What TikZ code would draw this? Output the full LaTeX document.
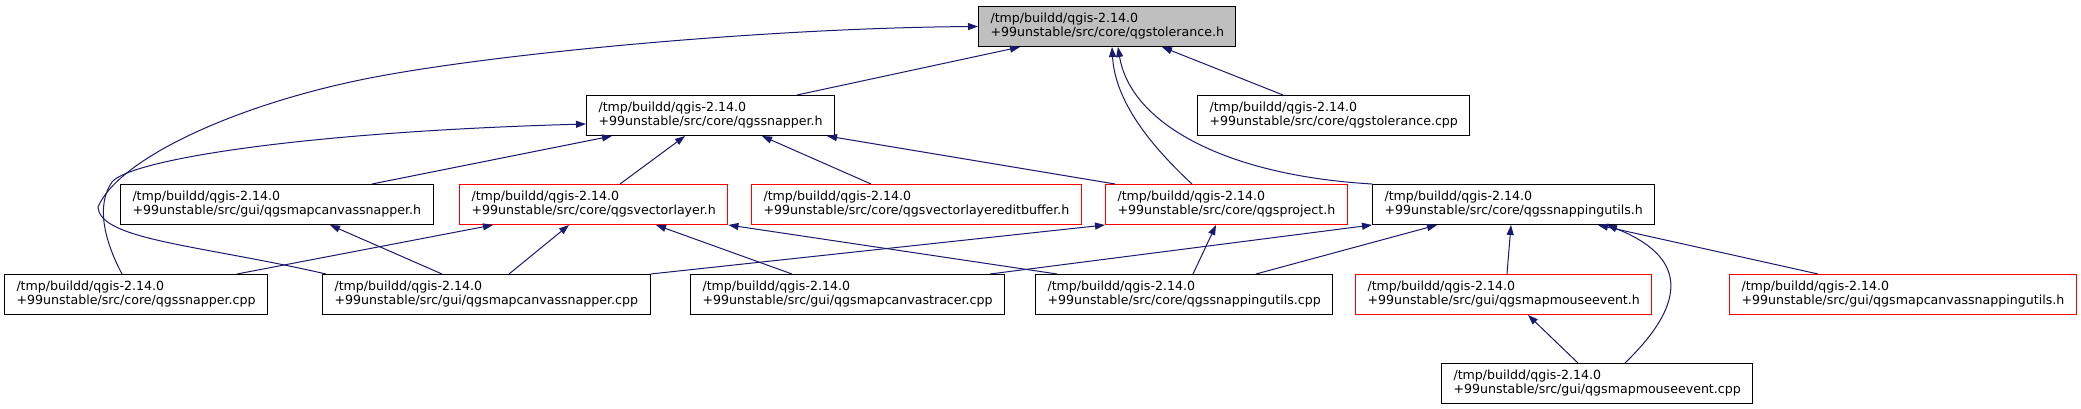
\documentclass[tikz,border=0pt]{standalone}
\usepackage{fontspec}
\setmainfont{DejaVu Sans}
\usepackage{tikz}
\usepackage{xcolor}
\usetikzlibrary{arrows.meta}
\definecolor{depblue}{RGB}{25,25,112}
\definecolor{curgray}{RGB}{191,191,191}
\tikzstyle{file}=[draw=black, line width=1pt, align=left, inner xsep=12pt, inner ysep=0pt, minimum height=40pt, anchor=north west, font=\fontsize{12.6}{14}\selectfont]
\tikzstyle{redfile}=[file, draw=red]
\tikzstyle{curfile}=[file, fill=curgray]
\tikzstyle{dep}=[draw=depblue, line width=1pt, -{Triangle[length=10pt, width=7pt]}]

\begin{document}
\begin{tikzpicture}[x=1pt, y=-1pt]
    \fill[white] (0,0) rectangle (2081,409);
    \useasboundingbox (0,0) rectangle (2081,409);

    \node[curfile] (tolerance)           at (978,6)    {/tmp/buildd/qgis-2.14.0\\+99unstable/src/core/qgstolerance.h};
    \node[file]    (snapper)             at (586,95)   {/tmp/buildd/qgis-2.14.0\\+99unstable/src/core/qgssnapper.h};
    \node[file]    (tolerancecpp)        at (1197,95)  {/tmp/buildd/qgis-2.14.0\\+99unstable/src/core/qgstolerance.cpp};
    \node[file]    (canvassnapper)       at (120,184)  {/tmp/buildd/qgis-2.14.0\\+99unstable/src/gui/qgsmapcanvassnapper.h};
    \node[redfile] (vectorlayer)         at (459,184)  {/tmp/buildd/qgis-2.14.0\\+99unstable/src/core/qgsvectorlayer.h};
    \node[redfile] (editbuffer)          at (751,184)  {/tmp/buildd/qgis-2.14.0\\+99unstable/src/core/qgsvectorlayereditbuffer.h};
    \node[redfile] (project)             at (1105,184) {/tmp/buildd/qgis-2.14.0\\+99unstable/src/core/qgsproject.h};
    \node[file]    (snappingutils)       at (1372,184) {/tmp/buildd/qgis-2.14.0\\+99unstable/src/core/qgssnappingutils.h};
    \node[file]    (snappercpp)          at (4,274)    {/tmp/buildd/qgis-2.14.0\\+99unstable/src/core/qgssnapper.cpp};
    \node[file]    (canvassnappercpp)    at (322,274)  {/tmp/buildd/qgis-2.14.0\\+99unstable/src/gui/qgsmapcanvassnapper.cpp};
    \node[file]    (canvastracer)        at (690,274)  {/tmp/buildd/qgis-2.14.0\\+99unstable/src/gui/qgsmapcanvastracer.cpp};
    \node[file]    (snappingutilscpp)    at (1035,274) {/tmp/buildd/qgis-2.14.0\\+99unstable/src/core/qgssnappingutils.cpp};
    \node[redfile] (mouseevent)          at (1355,274) {/tmp/buildd/qgis-2.14.0\\+99unstable/src/gui/qgsmapmouseevent.h};
    \node[redfile] (canvassnappingutils) at (1729,274) {/tmp/buildd/qgis-2.14.0\\+99unstable/src/gui/qgsmapcanvassnappingutils.h};
    \node[file]    (mouseeventcpp)       at (1441,363) {/tmp/buildd/qgis-2.14.0\\+99unstable/src/gui/qgsmapmouseevent.cpp};

    \draw[dep] ([xshift=211pt]snapper.north west)       -- ([xshift=42pt]tolerance.south west);
    \draw[dep] ([xshift=86pt]tolerancecpp.north west)   -- ([xshift=184pt]tolerance.south west);
    \draw[dep] ([xshift=87pt]project.north west)        .. controls +(-42,-39) and +(3,54) .. ([xshift=134pt]tolerance.south west);
    \draw[dep] (snappingutils.north west)               .. controls +(-152,-9) and +(12,74) .. ([xshift=140pt]tolerance.south west);
    \draw[dep] ([xshift=4pt]canvassnappercpp.north west) .. controls +(-126,-29) and (100,240) .. (98,207)
                                                        .. controls (118,160) and (230,107) .. (360,80)
                                                        .. controls (480,55) and (760,28) .. (tolerance.west);
    \draw[dep] ([xshift=118pt]snappercpp.north west)    .. controls (104,240) and (96,205) .. (112,182)
                                                        .. controls (130,160) and (300,132) .. ([yshift=12pt]snapper.south west);
    \draw[dep] ([xshift=252pt]canvassnapper.north west) -- ([xshift=26pt]snapper.south west);
    \draw[dep] ([xshift=161pt]vectorlayer.north west)   -- ([xshift=99pt]snapper.south west);
    \draw[dep] ([xshift=120pt]editbuffer.north west)    -- ([xshift=176pt]snapper.south west);
    \draw[dep] ([xshift=10pt]project.north west)        -- ([xshift=241pt]snapper.south west);
    \draw[dep] ([xshift=233pt]snappercpp.north west)    -- ([xshift=34pt]vectorlayer.south west);
    \draw[dep] ([xshift=120pt]canvassnappercpp.north west) -- ([xshift=210pt]canvassnapper.south west);
    \draw[dep] ([xshift=187pt]canvassnappercpp.north west) -- ([xshift=110pt]vectorlayer.south west);
    \draw[dep] ([xshift=102pt]canvastracer.north west)  -- ([xshift=197pt]vectorlayer.south west);
    \draw[dep] ([xshift=22pt]snappingutilscpp.north west) -- (vectorlayer.south east);
    \draw[dep] (canvassnappercpp.north east)            -- (project.south west);
    \draw[dep] ([xshift=158pt]snappingutilscpp.north west) -- ([xshift=111pt]project.south west);
    \draw[dep] ([xshift=300pt]canvastracer.north west)  -- (snappingutils.south west);
    \draw[dep] ([xshift=221pt]snappingutilscpp.north west) -- ([xshift=65pt]snappingutils.south west);
    \draw[dep] ([xshift=152pt]mouseevent.north west)    -- ([xshift=139pt]snappingutils.south west);
    \draw[dep] ([xshift=184pt]mouseeventcpp.north west) .. controls +(65,-63) and +(78,31) .. ([xshift=235pt]snappingutils.south west);
    \draw[dep] ([xshift=89pt]canvassnappingutils.north west) -- ([xshift=226pt]snappingutils.south west);
    \draw[dep] ([xshift=137pt]mouseeventcpp.north west) -- ([xshift=173pt]mouseevent.south west);
\end{tikzpicture}
\end{document}
